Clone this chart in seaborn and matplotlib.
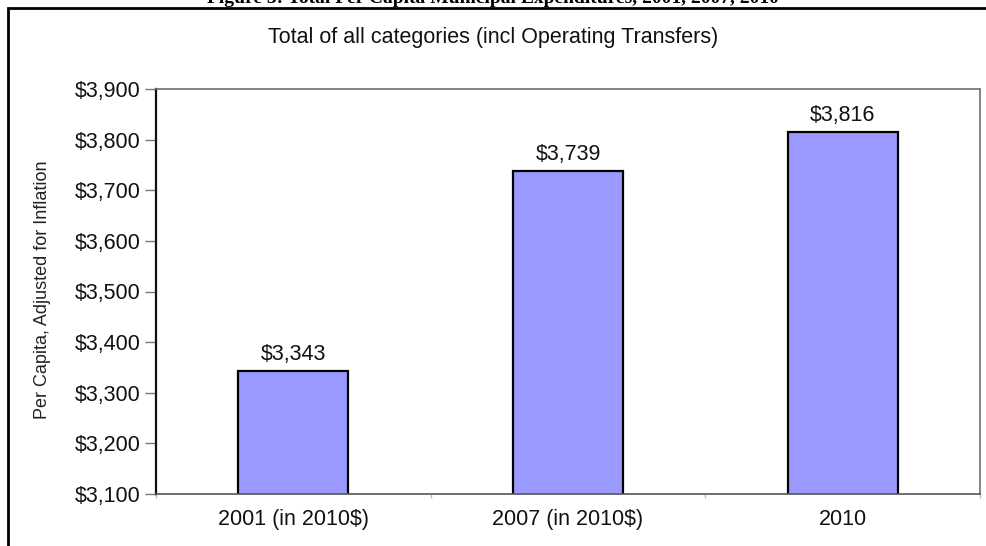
import matplotlib
matplotlib.use("Agg")
import matplotlib.pyplot as plt
import matplotlib.ticker as mticker
from matplotlib.patches import Rectangle
import seaborn as sns
import pandas as pd

# Per capita municipal expenditures (all categories, incl. operating transfers)
categories = ["2001 (in 2010$)", "2007 (in 2010$)", "2010"]
values = [3343, 3739, 3816]
y_ticks = [3100, 3200, 3300, 3400, 3500, 3600, 3700, 3800, 3900]

sns.set_theme(style="white")
plt.rcParams["font.family"] = ["Liberation Sans", "DejaVu Sans"]

W, H = 986, 546
fig = plt.figure(figsize=(W / 100, H / 100), dpi=100)
fig.patch.set_facecolor("white")

left, right, top, bottom = 156, 980, 89, 494
ax = fig.add_axes([left / W, 1 - bottom / H, (right - left) / W, (bottom - top) / H])

df = pd.DataFrame({"period": categories, "amount": values})
sns.barplot(data=df, x="period", y="amount", color="#9999FF", saturation=1,
            edgecolor="black", linewidth=1.6, width=0.4, ax=ax)

ax.set_ylim(y_ticks[0], y_ticks[-1])
ax.set_xlim(-0.5, len(categories) - 0.5)
ax.set_yticks(y_ticks)
ax.yaxis.set_major_formatter(mticker.FuncFormatter(lambda v, p: f"${v:,.0f}"))
ax.set_xlabel("")
ax.set_ylabel("")

FS = 15.5

# value labels above each bar
for i, v in enumerate(values):
    ax.annotate(f"${v:,}", (i, v), xytext=(0, 4), textcoords="offset points",
                ha="center", va="bottom", fontsize=FS, color="#111111")

# axis styling
ax.tick_params(axis="y", which="major", direction="out", length=8, width=1,
               color="#777777", labelsize=FS, labelcolor="#111111", pad=3, left=True)
ax.tick_params(axis="x", which="major", length=0, labelsize=FS, labelcolor="#111111", pad=11)
ax.set_xticks([-0.5, 0.5, 1.5, 2.5], minor=True)
ax.tick_params(axis="x", which="minor", direction="out", length=3, width=1,
               color="#bbbbbb", bottom=True)

for side in ["top", "right"]:
    ax.spines[side].set_visible(True)
    ax.spines[side].set_color("#707070")
    ax.spines[side].set_linewidth(1.2)
ax.spines["left"].set_color("#111111")
ax.spines["left"].set_linewidth(1.6)
ax.spines["bottom"].set_color("#555555")
ax.spines["bottom"].set_linewidth(1.2)

# chart title and axis label
fig.text(493 / W, 1 - 38 / H, "Total of all categories (incl Operating Transfers)",
         ha="center", va="center", fontsize=FS, color="#111111")
fig.text(43 / W, 1 - 290 / H, "Per Capita, Adjusted for Inflation", rotation=90,
         ha="center", va="center", fontsize=13, color="#222222")

# figure heading above the chart frame
fig.text(493 / W, 1 - 3 / H,
         "Figure 3: Total Per Capita Municipal Expenditures, 2001, 2007, 2010",
         ha="center", va="baseline", fontsize=14, fontweight="bold",
         family=["Liberation Serif", "DejaVu Serif"], color="black")

# outer chart frame
fig.add_artist(Rectangle((8 / W, -0.05), 1.1, (1 - 8 / H) + 0.05,
                         transform=fig.transFigure, fill=False,
                         edgecolor="black", linewidth=2))

fig.savefig("out.png", dpi=100, facecolor="white")
